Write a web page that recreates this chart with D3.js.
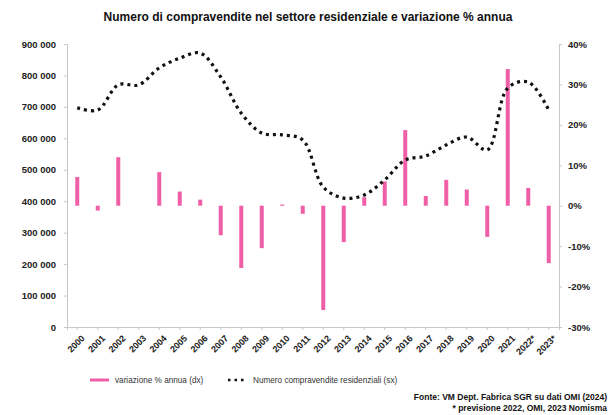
<!DOCTYPE html>
<html>
<head>
<meta charset="utf-8">
<script src="https://cdn.jsdelivr.net/npm/d3@7"></script>
<style>
  body { margin: 0; background: #fff; }
  svg text { font-family: "Liberation Sans", Arial, sans-serif; }
</style>
</head>
<body>
<svg id="chart" width="612" height="415"></svg>
<script>
// Anni (etichette asse x)
const years = ["2000","2001","2002","2003","2004","2005","2006","2007","2008","2009","2010","2011",
  "2012","2013","2014","2015","2016","2017","2018","2019","2020","2021","2022*","2023*"];
// Numero compravendite residenziali (asse sinistro)
const sales = [697000, 690000, 770000, 770000, 824000, 855000, 871000, 795000, 680000, 617000, 611000, 595000,
  445000, 410000, 420000, 468000, 531000, 544000, 579000, 604000, 563000, 760000, 779000, 690000];
// Variazione % annua (asse destro)
const change = [7.1, -1.2, 12.0, 0.0, 8.3, 3.5, 1.5, -7.3, -15.4, -10.5, 0.3, -2.0,
  -25.8, -9.0, 2.1, 6.0, 18.7, 2.4, 6.4, 4.0, -7.7, 33.8, 4.4, -14.2];
// Etichette degli assi
const leftTicks = [0, 100000, 200000, 300000, 400000, 500000, 600000, 700000, 800000, 900000];
const rightTicks = [-30, -20, -10, 0, 10, 20, 30, 40];

const svg = d3.select("#chart");
const plotTop = 44, plotBottom = 327, plotLeft = 67, plotRight = 559;
const pink = "#ef5fa7";

const x = d3.scaleBand().domain(years).range([plotLeft, plotRight]);
const yL = d3.scaleLinear().domain([0, 900000]).range([plotBottom, plotTop]);
const yR = d3.scaleLinear().domain([-30, 40]).range([plotBottom, plotTop]);

const fmtThousands = v => d3.format(",")(v).replace(/,/g, " ");

// Titolo
svg.append("text")
  .attr("x", 308).attr("y", 21)
  .attr("text-anchor", "middle")
  .attr("font-size", 12).attr("font-weight", "bold")
  .attr("fill", "#111")
  .text("Numero di compravendite nel settore residenziale e variazione % annua");

// Asse sinistro
const axL = svg.append("g").attr("transform", `translate(${plotLeft},0)`)
  .call(d3.axisLeft(yL).tickValues(leftTicks).tickSize(3).tickPadding(8).tickFormat(d => d === 0 ? "0" : fmtThousands(d)));
axL.selectAll("text").attr("font-size", 9.5).attr("font-weight", "bold").attr("fill", "#222");

// Asse destro
const axR = svg.append("g").attr("transform", `translate(${plotRight},0)`)
  .call(d3.axisRight(yR).tickValues(rightTicks).tickSize(3).tickPadding(6).tickFormat(d => d + "%"));
axR.selectAll("text").attr("font-size", 9.5).attr("font-weight", "bold").attr("fill", "#222");

// Asse x
const axX = svg.append("g").attr("transform", `translate(0,${plotBottom})`)
  .call(d3.axisBottom(x).tickSize(3).tickPadding(4));
axX.selectAll("text")
  .attr("font-size", 9).attr("font-weight", "bold").attr("fill", "#222")
  .attr("text-anchor", "end")
  .attr("transform", "rotate(-45)")
  .attr("dx", "-0.3em").attr("dy", "0.8em");

[axL, axR, axX].forEach(a => {
  a.selectAll("path.domain").attr("stroke", "#c8c8c8");
  a.selectAll(".tick line").attr("stroke", "#c8c8c8");
});

// Barre della variazione % annua
svg.append("g").selectAll("rect")
  .data(change)
  .join("rect")
  .attr("x", (d, i) => x(years[i]) + x.bandwidth() / 2 - 2)
  .attr("width", 4)
  .attr("y", d => Math.min(yR(d), yR(0)))
  .attr("height", d => Math.abs(yR(d) - yR(0)))
  .attr("fill", pink);

// Linea tratteggiata delle compravendite
const line = d3.line()
  .x((d, i) => x(years[i]) + x.bandwidth() / 2)
  .y(d => yL(d))
  .curve(d3.curveCatmullRom.alpha(0.5));

svg.append("path")
  .datum(sales)
  .attr("d", line)
  .attr("fill", "none")
  .attr("stroke", "#111")
  .attr("stroke-width", 3.2)
  .attr("stroke-dasharray", "3,4");

// Legenda
const lg = svg.append("g");
lg.append("rect").attr("x", 90).attr("y", 378.5).attr("width", 19).attr("height", 3).attr("fill", pink);
lg.append("text").attr("x", 115).attr("y", 383).attr("font-size", 8.2).attr("fill", "#333")
  .text("variazione % annua (dx)");
lg.append("line").attr("x1", 228).attr("x2", 246).attr("y1", 380).attr("y2", 380)
  .attr("stroke", "#111").attr("stroke-width", 2.5).attr("stroke-dasharray", "2.5,4");
lg.append("text").attr("x", 253).attr("y", 383).attr("font-size", 8.2).attr("fill", "#333")
  .text("Numero compravendite residenziali (sx)");

// Fonte
svg.append("text").attr("x", 607).attr("y", 400).attr("text-anchor", "end")
  .attr("font-size", 8.5).attr("font-weight", "bold").attr("fill", "#111")
  .text("Fonte: VM Dept. Fabrica SGR su dati OMI (2024)");
svg.append("text").attr("x", 607).attr("y", 411).attr("text-anchor", "end")
  .attr("font-size", 8.5).attr("font-weight", "bold").attr("fill", "#111")
  .text("* previsione 2022, OMI, 2023 Nomisma");
</script>
</body>
</html>
